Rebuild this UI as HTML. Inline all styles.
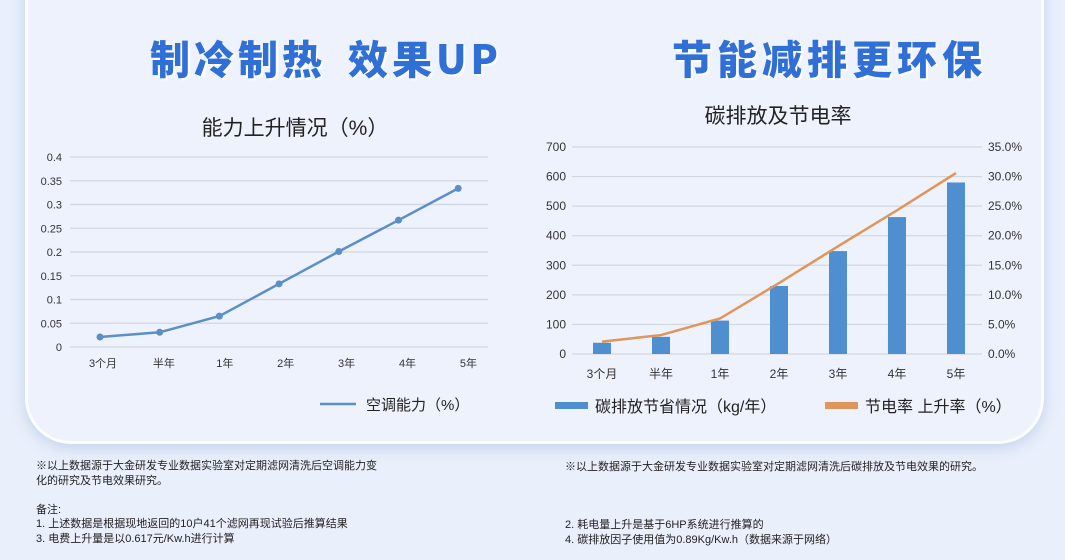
<!DOCTYPE html>
<html><head><meta charset="utf-8">
<style>
body{margin:0;width:1065px;height:560px;overflow:hidden;background:#e9effb;font-family:"Liberation Sans","Noto Sans CJK SC",sans-serif;position:relative}
.card{position:absolute;left:25px;top:-40px;width:1013px;height:478px;background:#edf2fd;border:3px solid #fbfdff;border-radius:0 0 46px 46px;box-shadow:0 4px 14px rgba(150,175,220,.45)}
.hd{position:absolute;top:28px;font-size:40px;font-weight:900;color:#2f6fd6;font-family:"Noto Sans CJK SC",sans-serif;letter-spacing:4px;text-shadow:2px 2px 0 #fff;white-space:nowrap}
.note{position:absolute;font-size:11px;color:#222;line-height:14.5px;font-family:"Liberation Sans","Noto Sans CJK SC",sans-serif}
svg text{font-family:"Liberation Sans","Noto Sans CJK SC",sans-serif}
</style></head><body>
<div class="card"></div>
<div class="hd" style="left:150px">制冷制热<span style="display:inline-block;width:22px"></span>效果UP</div>
<div class="hd" style="left:672px;letter-spacing:5px">节能减排更环保</div>
<svg id="c" width="1065" height="560" style="position:absolute;left:0;top:0">
<text x="295" y="135" font-size="21" text-anchor="middle" fill="#222">能力上升情况（%）</text>
<text x="778" y="123" font-size="21" text-anchor="middle" fill="#222">碳排放及节电率</text>
<line x1="320" y1="404" x2="356" y2="404" stroke="#5b8fc5" stroke-width="2.5"/>
<text x="366" y="410" font-size="15" fill="#222">空调能力（%）</text>
<rect x="555" y="402" width="33" height="7" fill="#4f8fcf"/>
<text x="595" y="412" font-size="16" fill="#222">碳排放节省情况（kg/年）</text>
<rect x="825" y="402" width="33" height="7" fill="#e0955a"/>
<text x="865" y="412" font-size="16" fill="#222">节电率 上升率（%）</text>
</svg>
<div class="note" style="left:36px;top:459px">※以上数据源于大金研发专业数据实验室对定期滤网清洗后空调能力变<br>化的研究及节电效果研究。<br><br>备注:<br>1. 上述数据是根据现地返回的10户41个滤网再现试验后推算结果<br>3. 电费上升量是以0.617元/Kw.h进行计算</div>
<div class="note" style="left:565px;top:460px">※以上数据源于大金研发专业数据实验室对定期滤网清洗后碳排放及节电效果的研究。<br><br><br><br>2. 耗电量上升是基于6HP系统进行推算的<br>4. 碳排放因子使用值为0.89Kg/Kw.h（数据来源于网络）</div>
<script>
const categories=["3个月","半年","1年","2年","3年","4年","5年"];
const capacity=[0.021,0.031,0.065,0.133,0.201,0.267,0.334];
const leftTicks=["0","0.05","0.1","0.15","0.2","0.25","0.3","0.35","0.4"];
const carbon=[38,58,113,230,348,463,580];
const rate=[2.1,3.2,6.0,12.0,18.2,24.3,30.6];
const carbonTicks=["0","100","200","300","400","500","600","700"];
const rateTicks=["0.0%","5.0%","10.0%","15.0%","20.0%","25.0%","30.0%","35.0%"];
const svg=document.getElementById('c');const NS='http://www.w3.org/2000/svg';
function mk(t,a,txt){const e=document.createElementNS(NS,t);for(const k in a)e.setAttribute(k,a[k]);if(txt!=null)e.textContent=txt;svg.appendChild(e);return e;}
const lx=i=>100+i*59.7, ly=v=>347-v/0.4*190;
leftTicks.forEach((t,i)=>{const v=i*0.05;
 const g=mk('line',{x1:70,x2:488,y1:ly(v),y2:ly(v),stroke:'#d3d7de','stroke-width':1.2});
 
 const tx=mk('text',{x:62,y:ly(v)+4,'font-size':11,'text-anchor':'end',fill:'#333'},t);
 });
categories.forEach((c,i)=>{const tx=mk('text',{x:lx(i)+3+i*1.2,y:367,'font-size':11,'text-anchor':'middle',fill:'#333'},c);
 });
const pl=mk('polyline',{points:capacity.map((v,i)=>lx(i)+','+ly(v)).join(' '),fill:'none',stroke:'#5b8fc5','stroke-width':2.5});

capacity.forEach((v,i)=>{const p=mk('circle',{cx:lx(i),cy:ly(v),r:3.5,fill:'#5b8fc5'});
 });
const rx=i=>602+i*59, ry=v=>354-v/700*207, rr=v=>354-v/35*207;
carbonTicks.forEach((t,i)=>{const y=ry(i*100);
 const g=mk('line',{x1:572,x2:982,y1:y,y2:y,stroke:'#d3d7de','stroke-width':1.2});
 
 const tx=mk('text',{x:566,y:y+4,'font-size':12,'text-anchor':'end',fill:'#333'},t);
 });
rateTicks.forEach((t,i)=>{const tx=mk('text',{x:988,y:rr(i*5)+4,'font-size':12,fill:'#333'},t);
 });
categories.forEach((c,i)=>{const tx=mk('text',{x:rx(i),y:378,'font-size':12,'text-anchor':'middle',fill:'#333'},c);
 });
carbon.forEach((v,i)=>{const b=mk('rect',{x:rx(i)-9,y:ry(v),width:18,height:354-ry(v),fill:'#4f8fcf'});
 });
const rl=mk('polyline',{points:rate.map((v,i)=>rx(i)+','+rr(v)).join(' '),fill:'none',stroke:'#e0955a','stroke-width':2.5});

</script>
</body></html>
